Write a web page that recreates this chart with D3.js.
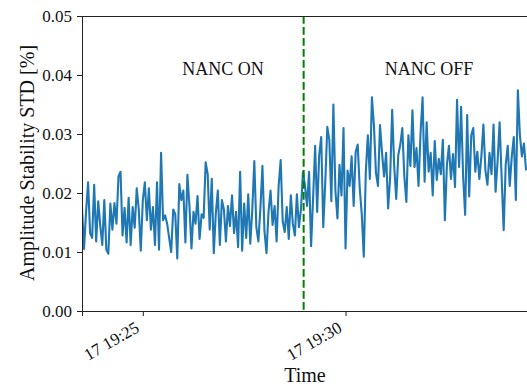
<!DOCTYPE html>
<html>
<head>
<meta charset="utf-8">
<script src="https://cdn.jsdelivr.net/npm/d3@7"></script>
<style>
  body { margin: 0; background: #fff; }
  svg { display: block; }
  svg text { font-family: "Liberation Serif", "Times New Roman", "DejaVu Serif", serif; }
</style>
</head>
<body>
<svg id="chart" width="527" height="387"></svg>
<script>
// samples every 3 s starting at startTime
const startTime = '2021-03-17 19:23:30';
const stepSeconds = 3;
const switchTime = '2021-03-17 19:28:58';
const yTicks = [0, 0.01, 0.02, 0.03, 0.04, 0.05];
const labels = ['NANC ON', 'NANC OFF'];

// NANC on
const stdOn = [
  .0175, .0105, .0168, .0218, .0132, .0124, .0214, .0118, .0186, .0145,
  .0112, .0188, .0104, .0097, .0182, .0138, .0183, .0148, .0228, .0236,
  .0128, .0175, .0116, .0192, .0112, .0176, .0141, .0208, .0172, .0102,
  .0188, .0218, .0154, .0208, .0138, .0176, .0112, .0218, .0104, .0268,
  .0154, .0162, .0148, .0124, .0100, .0172, .0164, .0089, .0215, .0188,
  .0204, .0116, .0231, .0178, .0106, .0168, .0148, .0195, .0122, .0164,
  .0158, .0252, .0232, .0138, .0224, .0098, .0165, .0204, .0112, .0188,
  .0172, .0118, .0178, .0144, .0196, .0132, .0168, .0108, .0236, .0102,
  .0182, .0124, .0198, .0114, .0172, .0254, .0142, .0118, .0174, .0246,
  .0136, .0098, .0168, .0204, .0146, .0178, .0118, .0212, .0256, .0152,
  .0134, .0176, .0122, .0196, .0148, .0128, .0198, .0142, .0172, .0236
];
// NANC off
const stdOff = [
  .0212, .0178, .0236, .0110, .0192, .0280, .0168, .0264, .0295, .0142,
  .0218, .0312, .0290, .0186, .0350, .0204, .0157, .0248, .0196, .0310,
  .0106, .0238, .0212, .0262, .0178, .0270, .0282, .0208, .0164, .0092,
  .0236, .0298, .0224, .0362, .0315, .0234, .0212, .0315, .0268, .0228,
  .0268, .0174, .0226, .0341, .0246, .0190, .0264, .0282, .0310, .0228,
  .0185, .0298, .0246, .0340, .0244, .0276, .0212, .0302, .0362, .0219,
  .0320, .0236, .0268, .0196, .0288, .0222, .0258, .0232, .0290, .0154,
  .0248, .0280, .0224, .0266, .0210, .0358, .0244, .0346, .0228, .0163,
  .0332, .0194, .0298, .0310, .0236, .0270, .0224, .0262, .0316, .0238,
  .0214, .0268, .0232, .0316, .0202, .0254, .0320, .0226, .0137, .0248,
  .0280, .0212, .0262, .0295, .0188, .0374, .0298, .0262, .0284, .0240
];

const parse = d3.timeParse('%Y-%m-%d %H:%M:%S');
const t0 = parse(startTime);
const values = stdOn.concat(stdOff);
const data = values.map((v, i) => ({ t: new Date(t0.getTime() + i * stepSeconds * 1000), v: v }));

const svg = d3.select('#chart');
const mLeft = 82, mTop = 16, mBottom = 311, mRight = 528;

const x = d3.scaleTime()
  .domain([t0, parse('2021-03-17 19:34:30')])
  .range([mLeft, mRight]);
const y = d3.scaleLinear()
  .domain([0, 0.05])
  .range([mBottom, mTop]);

svg.append('defs').append('clipPath').attr('id', 'clip')
  .append('rect').attr('x', mLeft).attr('y', mTop).attr('width', mRight - mLeft).attr('height', mBottom - mTop);

// the series
svg.append('path')
  .datum(data)
  .attr('clip-path', 'url(#clip)')
  .attr('fill', 'none')
  .attr('stroke', '#1f77b4')
  .attr('stroke-width', 2.1)
  .attr('stroke-linejoin', 'round')
  .attr('stroke-linecap', 'square')
  .attr('d', d3.line().x(d => x(d.t)).y(d => y(d.v)));

// switch marker
const xs = x(parse(switchTime));
svg.append('line')
  .attr('x1', xs).attr('x2', xs).attr('y1', mTop).attr('y2', mBottom)
  .attr('stroke', '#008000').attr('stroke-width', 2)
  .attr('stroke-dasharray', '7.7,3.3');

// axes
const yAxis = svg.append('g')
  .attr('transform', 'translate(' + mLeft + ',0)')
  .call(d3.axisLeft(y).tickValues(yTicks).tickFormat(d3.format('.2f')).tickSizeOuter(0).tickSize(5).tickPadding(5));
yAxis.selectAll('text').attr('font-size', 17).attr('fill', '#111');

const xAxis = svg.append('g')
  .attr('transform', 'translate(0,' + mBottom + ')')
  .call(d3.axisBottom(x).ticks(d3.timeMinute.every(5)).tickFormat(d3.timeFormat('%d %H:%M')).tickSizeOuter(0).tickSize(5));
xAxis.selectAll('text')
  .attr('font-size', 17).attr('fill', '#111')
  .attr('dy', null).attr('y', 0)
  .attr('text-anchor', 'end')
  .attr('transform', 'translate(-3,20) rotate(-30)');

svg.selectAll('g').attr('font-family', null);
svg.selectAll('.domain').attr('stroke', '#222').attr('stroke-width', 1);
svg.selectAll('.tick line').attr('stroke', '#222');

// top spine
svg.append('line')
  .attr('x1', mLeft).attr('x2', mRight).attr('y1', mTop + 0.5).attr('y2', mTop + 0.5)
  .attr('stroke', '#222');

// labels
svg.append('text').attr('x', 223).attr('y', 75).attr('text-anchor', 'middle')
  .attr('font-size', 18).attr('fill', '#111').text(labels[0]);
svg.append('text').attr('x', 429).attr('y', 75).attr('text-anchor', 'middle')
  .attr('font-size', 18).attr('fill', '#111').text(labels[1]);

svg.append('text').attr('x', 305).attr('y', 382).attr('text-anchor', 'middle')
  .attr('font-size', 20).attr('fill', '#111').text('Time');
svg.append('text')
  .attr('transform', 'translate(34,163) rotate(-90)')
  .attr('text-anchor', 'middle')
  .attr('font-size', 20).attr('fill', '#111').text('Amplitude Stability STD [%]');
</script>
</body>
</html>
